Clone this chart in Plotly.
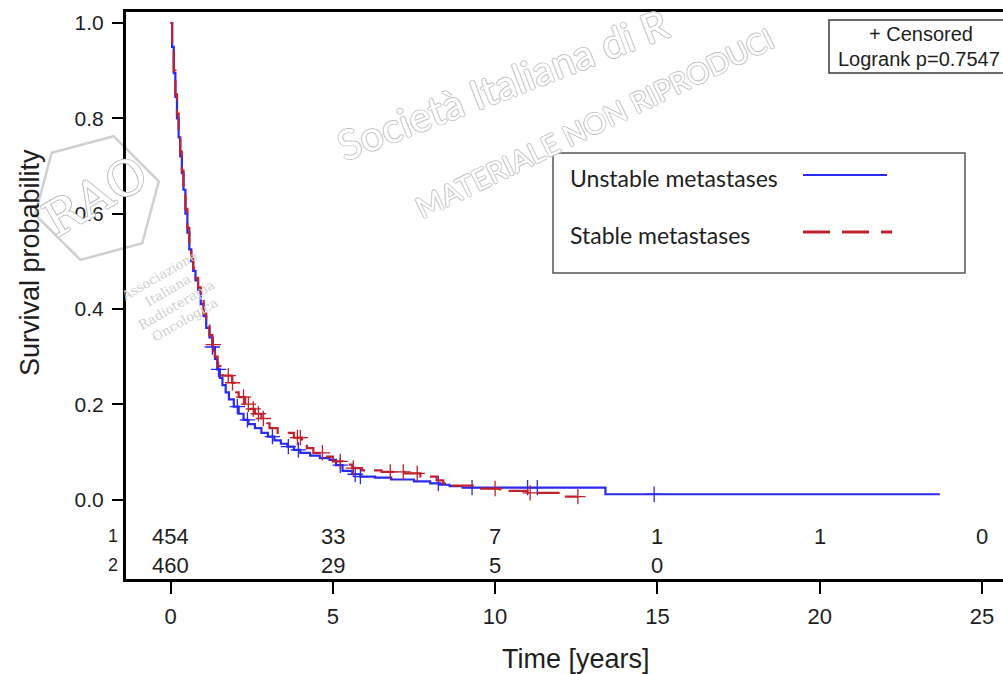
import numpy as np
import plotly.graph_objects as go

# ---------------- data ----------------
unstable_time = [0, 0.05, 0.10, 0.15, 0.20, 0.25, 0.30, 0.35, 0.40, 0.46, 0.52, 0.58, 0.64, 0.70, 0.77,
                 0.85, 0.93, 1.02, 1.10, 1.20, 1.29, 1.37, 1.44, 1.52, 1.60, 1.70, 1.80, 1.95, 2.10, 2.25,
                 2.40, 2.60, 2.80, 3.00, 3.20, 3.40, 3.60, 3.80, 4.00, 4.30, 4.60, 4.90, 5.10, 5.30, 5.60,
                 5.85, 6.30, 6.80, 7.50, 8.00, 8.30, 8.60, 9.00, 13.40, 23.70]
unstable_surv = [1.0, 0.95, 0.895, 0.845, 0.80, 0.76, 0.72, 0.685, 0.65, 0.60, 0.56, 0.525, 0.50, 0.48, 0.46,
                 0.44, 0.41, 0.385, 0.36, 0.34, 0.32, 0.295, 0.273, 0.255, 0.24, 0.225, 0.21, 0.195, 0.18, 0.167,
                 0.158, 0.15, 0.14, 0.132, 0.124, 0.117, 0.111, 0.104, 0.098, 0.092, 0.087, 0.083, 0.072, 0.06, 0.053,
                 0.048, 0.046, 0.042, 0.038, 0.034, 0.031, 0.028, 0.025, 0.011, 0.011]
unstable_censor = [1.29, 1.48, 2.06, 2.37, 3.14, 3.63, 3.94, 5.23, 5.69, 5.85, 8.25, 9.29, 11.0, 11.3, 14.9]

stable_time = [0, 0.05, 0.10, 0.15, 0.20, 0.25, 0.30, 0.35, 0.40, 0.46, 0.52, 0.58, 0.64, 0.70, 0.77,
               0.85, 0.93, 1.02, 1.10, 1.20, 1.29, 1.37, 1.45, 1.60, 1.90, 1.97, 2.10, 2.30, 2.45, 2.60,
               2.80, 2.90, 3.05, 3.30, 3.80, 4.05, 4.20, 4.40, 4.70, 5.00, 5.30, 5.60, 5.90, 6.50, 7.20,
               7.70, 8.20, 8.40, 8.60, 9.50, 10.15, 11.00, 12.10, 12.55]
stable_surv = [1.0, 0.955, 0.90, 0.85, 0.81, 0.77, 0.73, 0.69, 0.655, 0.61, 0.57, 0.535, 0.505, 0.485, 0.465,
               0.445, 0.42, 0.39, 0.365, 0.345, 0.325, 0.30, 0.28, 0.26, 0.245, 0.225, 0.215, 0.20, 0.19, 0.18,
               0.17, 0.16, 0.15, 0.14, 0.13, 0.118, 0.108, 0.098, 0.09, 0.08, 0.073, 0.066, 0.061, 0.058, 0.055,
               0.048, 0.04, 0.034, 0.029, 0.023, 0.018, 0.014, 0.006, 0.006]
stable_censor = [1.32, 1.78, 1.91, 2.25, 2.40, 2.55, 2.71, 2.86, 3.91, 4.00, 4.68, 5.23, 5.63, 6.77, 7.17,
                 7.60, 10.0, 11.08, 12.55]

risk_times = [0, 5, 10, 15, 20, 25]
risk_unstable = [454, 33, 7, 1, 1, 0]
risk_stable = [460, 29, 5, 0]

x_ticks = [0, 5, 10, 15, 20, 25]
y_ticks = [0.0, 0.2, 0.4, 0.6, 0.8, 1.0]

BLUE = "#2a2aee"
RED = "#c0222e"
TXT = "#1e1e1e"
SANS = "Liberation Sans, Arial, sans-serif"

W, H = 1003, 674
L, T, B, R = 126, 12, 95, 0
PW, PH = W - L - R, H - T - B


def px(x):
    return (x - L) / PW


def py(y):
    return (H - B - y) / PH


def step_value(times, surv, t):
    i = np.searchsorted(np.asarray(times), t, side="right") - 1
    return np.asarray(surv)[i]


fig = go.Figure()

fig.add_trace(go.Scatter(x=unstable_time, y=unstable_surv, mode="lines", line_shape="hv",
                         line=dict(color=BLUE, width=2.2), showlegend=False))
fig.add_trace(go.Scatter(x=unstable_censor,
                         y=[step_value(unstable_time, unstable_surv, c) for c in unstable_censor],
                         mode="markers",
                         marker=dict(symbol="cross-thin", size=11, line=dict(color=BLUE, width=1.3)),
                         showlegend=False))
fig.add_trace(go.Scatter(x=stable_time, y=stable_surv, mode="lines", line_shape="hv",
                         line=dict(color=RED, width=2.2, dash="22px,9px"), showlegend=False))
fig.add_trace(go.Scatter(x=stable_censor,
                         y=[step_value(stable_time, stable_surv, c) for c in stable_censor],
                         mode="markers",
                         marker=dict(symbol="cross-thin", size=11, line=dict(color=RED, width=1.3)),
                         showlegend=False))

ann = []
shapes = []

# watermark
outline = "1px 0 #c2c2c2, -1px 0 #c2c2c2, 0 1px #c2c2c2, 0 -1px #c2c2c2"
wm_font = dict(family="Lato, Open Sans, sans-serif", color="white", shadow=outline)
ann.append(dict(text="Società Italiana di R", xref="paper", yref="paper",
                x=px(502), y=py(84), xanchor="center", yanchor="middle", showarrow=False, textangle=-21,
                font=dict(size=41, **wm_font)))
ann.append(dict(text="MATERIALE NON RIPRODUCI", xref="paper", yref="paper",
                x=px(594), y=py(122), xanchor="center", yanchor="middle", showarrow=False, textangle=-26,
                font=dict(size=29, **wm_font)))
# logo (faint hexagon)
cx, cy, rr = 97, 198, 64
hexpts = [(cx + rr * np.cos(np.radians(a)), cy + rr * np.sin(np.radians(a))) for a in range(-15, 345, 60)]
path = "M " + " L ".join(f"{px(xx):.4f},{py(yy):.4f}" for xx, yy in hexpts) + " Z"
shapes.append(dict(type="path", xref="paper", yref="paper", path=path,
                   line=dict(color="#d0d0d0", width=2.5), layer="below"))
ann.append(dict(text="RAO", xref="paper", yref="paper", x=px(95), y=py(196), showarrow=False,
                xanchor="center", yanchor="middle",
                textangle=-30, font=dict(size=48, family="DejaVu Serif, serif", color="white",
                                         shadow="1px 0 #bdbdbd, -1px 0 #bdbdbd, 0 1px #bdbdbd, 0 -1px #bdbdbd")))
ann.append(dict(text="Associazione<br>Italiana<br>Radioterapia<br>Oncologica", xref="paper", yref="paper",
                x=px(172), y=py(298), showarrow=False, textangle=-30, align="center",
                xanchor="center", yanchor="middle",
                font=dict(size=13, family="DejaVu Serif, serif", color="#d0d0d0")))

# censored / logrank box
shapes.append(dict(type="rect", xref="paper", yref="paper", x0=px(829), x1=px(1012), y0=py(73), y1=py(20),
                   line=dict(color="#3a3a3a", width=1.5), fillcolor="white"))
ann.append(dict(text="+ Censored", xref="paper", yref="paper", x=px(921), y=py(34), showarrow=False,
                xanchor="center", yanchor="middle",
                font=dict(size=20, family=SANS, color=TXT)))
ann.append(dict(text="Logrank p=0.7547", xref="paper", yref="paper", x=px(836), y=py(59), showarrow=False,
                xanchor="left", yanchor="middle",
                font=dict(size=20, family=SANS, color=TXT)))

# legend box
shapes.append(dict(type="rect", xref="paper", yref="paper", x0=px(553), x1=px(965), y0=py(273), y1=py(153),
                   line=dict(color="#555555", width=1.5), fillcolor="white"))
ann.append(dict(text="Unstable metastases", xref="paper", yref="paper", x=px(568), y=py(178),
                showarrow=False, xanchor="left", yanchor="middle",
                font=dict(size=23, family="Lato, sans-serif", color=TXT)))
ann.append(dict(text="Stable metastases", xref="paper", yref="paper", x=px(568), y=py(235),
                showarrow=False, xanchor="left", yanchor="middle",
                font=dict(size=23, family="Lato, sans-serif", color=TXT)))
shapes.append(dict(type="line", xref="paper", yref="paper", x0=px(803), x1=px(887), y0=py(175), y1=py(175),
                   line=dict(color=BLUE, width=2)))
shapes.append(dict(type="line", xref="paper", yref="paper", x0=px(803), x1=px(892), y0=py(232), y1=py(232),
                   line=dict(color=RED, width=3, dash="27px,12px")))

# risk table
for t, n in zip(risk_times, risk_unstable):
    ann.append(dict(text=str(n), xref="x", yref="paper", x=t, y=py(536), showarrow=False,
                    xanchor="center", yanchor="middle",
                    font=dict(size=22, family=SANS, color=TXT)))
for t, n in zip(risk_times, risk_stable):
    ann.append(dict(text=str(n), xref="x", yref="paper", x=t, y=py(565), showarrow=False,
                    xanchor="center", yanchor="middle",
                    font=dict(size=22, family=SANS, color=TXT)))
for lab, yy in (("1", 536), ("2", 565)):
    ann.append(dict(text=lab, xref="paper", yref="paper", x=px(120), y=py(yy), showarrow=False,
                    xanchor="right", yanchor="middle",
                    font=dict(size=18, family=SANS, color=TXT)))

# axis titles
ann.append(dict(text="Survival probability", xref="paper", yref="paper", x=px(30), y=py(263),
                showarrow=False, textangle=-90, xanchor="center", yanchor="middle",
                font=dict(size=27, family=SANS, color=TXT)))
ann.append(dict(text="Time [years]", xref="paper", yref="paper", x=px(576), y=py(659),
                showarrow=False, xanchor="center", yanchor="middle",
                font=dict(size=27, family=SANS, color=TXT)))

px_per_year = (982 - 170.5) / 25
xmin = (L - 170.5) / px_per_year
xmax = (W - 170.5) / px_per_year
px_per_unit = 476.5
ymax = (499.5 - T) / px_per_unit
ymin = (499.5 - (H - B)) / px_per_unit

fig.update_layout(
    width=W, height=H, margin=dict(l=L, r=R, t=T, b=B),
    plot_bgcolor="white", paper_bgcolor="white",
    annotations=ann, shapes=shapes, showlegend=False,
    xaxis=dict(range=[xmin, xmax], tickvals=x_ticks, ticktext=[str(v) for v in x_ticks],
               showgrid=False, zeroline=False, showline=True, linecolor="black", linewidth=3,
               mirror=True, ticks="outside", ticklen=12, tickwidth=1.5, tickcolor="black",
               ticklabelstandoff=4,
               tickfont=dict(size=22, family=SANS, color=TXT)),
    yaxis=dict(range=[ymin, ymax], tickvals=y_ticks, ticktext=[f"{v:.1f}" for v in y_ticks],
               showgrid=False, zeroline=False, showline=True, linecolor="black", linewidth=3,
               mirror=False, ticks="outside", ticklen=11, tickwidth=1.5, tickcolor="black",
               ticklabelstandoff=4,
               tickfont=dict(size=21, family=SANS, color=TXT)),
)

fig.write_html("out.html")
